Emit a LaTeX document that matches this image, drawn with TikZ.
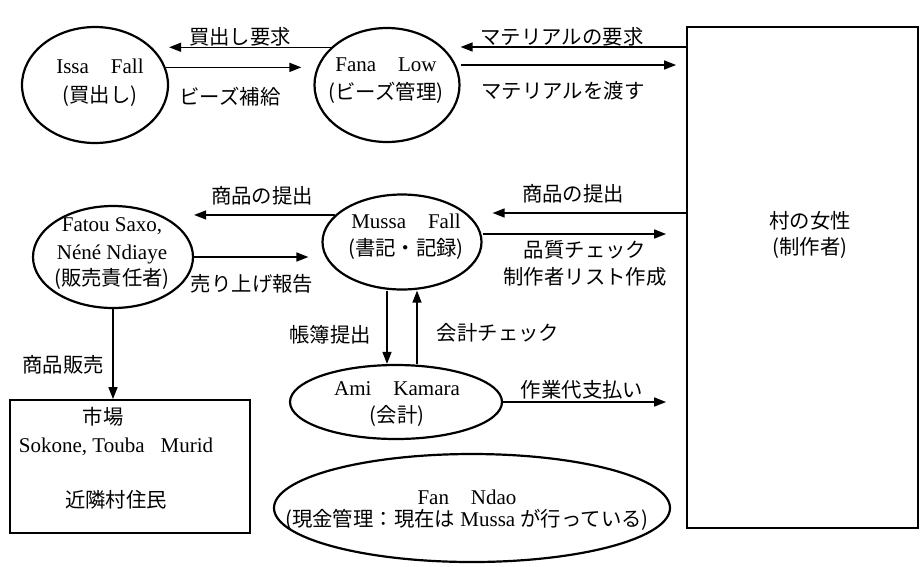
\documentclass[tikz,border=0pt]{standalone}
\usepackage{fontspec}
\setmainfont{Liberation Serif}
\newfontfamily\jp{Noto Sans CJK JP}[Scale=0.97]
\usetikzlibrary{shapes.geometric,arrows.meta}
\tikzset{
  ell/.style={ellipse, draw, line width=2.2pt, inner sep=0pt},
  boxnode/.style={rectangle, draw, line width=1.8pt, inner sep=0pt},
  arr/.style={-{Triangle[length=12pt,width=9pt]}, line width=1.5pt},
  lbl/.style={inner sep=0pt, align=center},
}
\newcommand{\gapsp}{\hspace{22pt}}
\begin{document}
\begin{tikzpicture}[x=1pt,y=-1pt,font=\fontsize{21}{28}\selectfont]
\useasboundingbox (0,0) rectangle (920,566);

% shapes
\node[ell, minimum width=146pt, minimum height=116pt] (issa) at (95,85) {};
\node[ell, minimum width=145pt, minimum height=114pt] (fana) at (387,85) {};
\node[boxnode, minimum width=231pt, minimum height=501pt] (women) at (802.5,277.5) {};
\node[ell, minimum width=160pt, minimum height=102pt] (fatou) at (113,257) {};
\node[ell, minimum width=159pt, minimum height=95pt] (mussa) at (402,242) {};
\node[boxnode, minimum width=240pt, minimum height=133pt] (market) at (130,466.5) {};
\node[ell, minimum width=212pt, minimum height=74pt] (ami) at (396,402) {};
\node[ell, minimum width=396pt, minimum height=108pt] (fan) at (472,508) {};

% texts inside shapes
\node[lbl] (issatxt) at (100,83) {Issa\gapsp Fall\\[1pt]{\jp (買出し)}};
\node[lbl] (fanatxt) at (386,81) {Fana\gapsp Low\\{\jp (ビーズ管理)}};
\node[lbl] (womentxt) at (810,235) {{\jp 村の女性}\\[-2pt]{\jp (制作者)}};
\node[lbl] (fatoutxt) at (112,254) {Fatou Saxo,\\Néné Ndiaye\\[-2pt]{\jp (販売責任者)}};
\node[lbl] (mussatxt) at (406,237) {Mussa\gapsp Fall\\[-1pt]{\jp (書記・記録)}};
\node[lbl] (markettxt) at (116,458)
  {\hspace*{-26pt}{\jp 市場}\\Sokone, Touba\hspace{16pt}Murid\\[27pt]{\jp 近隣村住民}};
\node[lbl] (amitxt) at (397,404) {Ami\gapsp Kamara\\[-1pt]{\jp (会計)}};
\node[lbl] (fantxt) at (467,510) {Fan\gapsp Ndao\\[-6pt]{\jp (現金管理：現在は} Mussa {\jp が行っている)}};

% connectors
\draw[arr] (fana.146) -- (issa.east |- fana.146);
\draw[arr] (issa.14) -- ([xshift=-12pt]fana.west |- issa.14);
\draw[arr] (women.west |- 0,47) -- (fana.east |- 0,47);
\draw[arr] (fana.east |- 0,65) -- ([xshift=-10pt]women.west |- 0,65);

\draw[arr] (mussa.158) -- (fatou.east |- mussa.158);
\draw[arr] (fatou.east) -- ([xshift=-13pt]mussa.west |- fatou.east);
\draw[arr] (women.west |- 0,213) -- ([xshift=10pt]mussa.east |- 0,213);
\draw[arr] (mussa.east |- 0,234) -- ([xshift=-20pt]women.west |- 0,234);

\draw[arr] (fatou.south) -- (fatou.south |- market.north);
\draw[arr] ([xshift=-15pt]mussa.south) -- ([xshift=-15pt]mussa.south |- ami.north);
\draw[arr] ([xshift=15pt]mussa.south |- ami.north) -- ([xshift=15pt]mussa.south);
\draw[arr] (ami.east) -- ([xshift=-20pt]women.west |- ami.east);

% connector labels
\node[lbl] (l1) at (240,37) {\jp 買出し要求};
\node[lbl] (l2) at (230,97) {\jp ビーズ補給};
\node[lbl] (l3) at (562,37) {\jp マテリアルの要求};
\node[lbl] (l4) at (563,91) {\jp マテリアルを渡す};
\node[lbl] (l5) at (262,196) {\jp 商品の提出};
\node[lbl] (l6) at (252,284) {\jp 売り上げ報告};
\node[lbl] (l7) at (573,194) {\jp 商品の提出};
\node[lbl] (l8) at (585,263) {{\jp 品質チェック}\\[-1pt]{\jp 制作者リスト作成}};
\node[lbl] (l9) at (63,365) {\jp 商品販売};
\node[lbl] (l10) at (330,335) {\jp 帳簿提出};
\node[lbl] (l11) at (498,333) {\jp 会計チェック};
\node[lbl] (l12) at (582,390) {\jp 作業代支払い};
\end{tikzpicture}
\end{document}
